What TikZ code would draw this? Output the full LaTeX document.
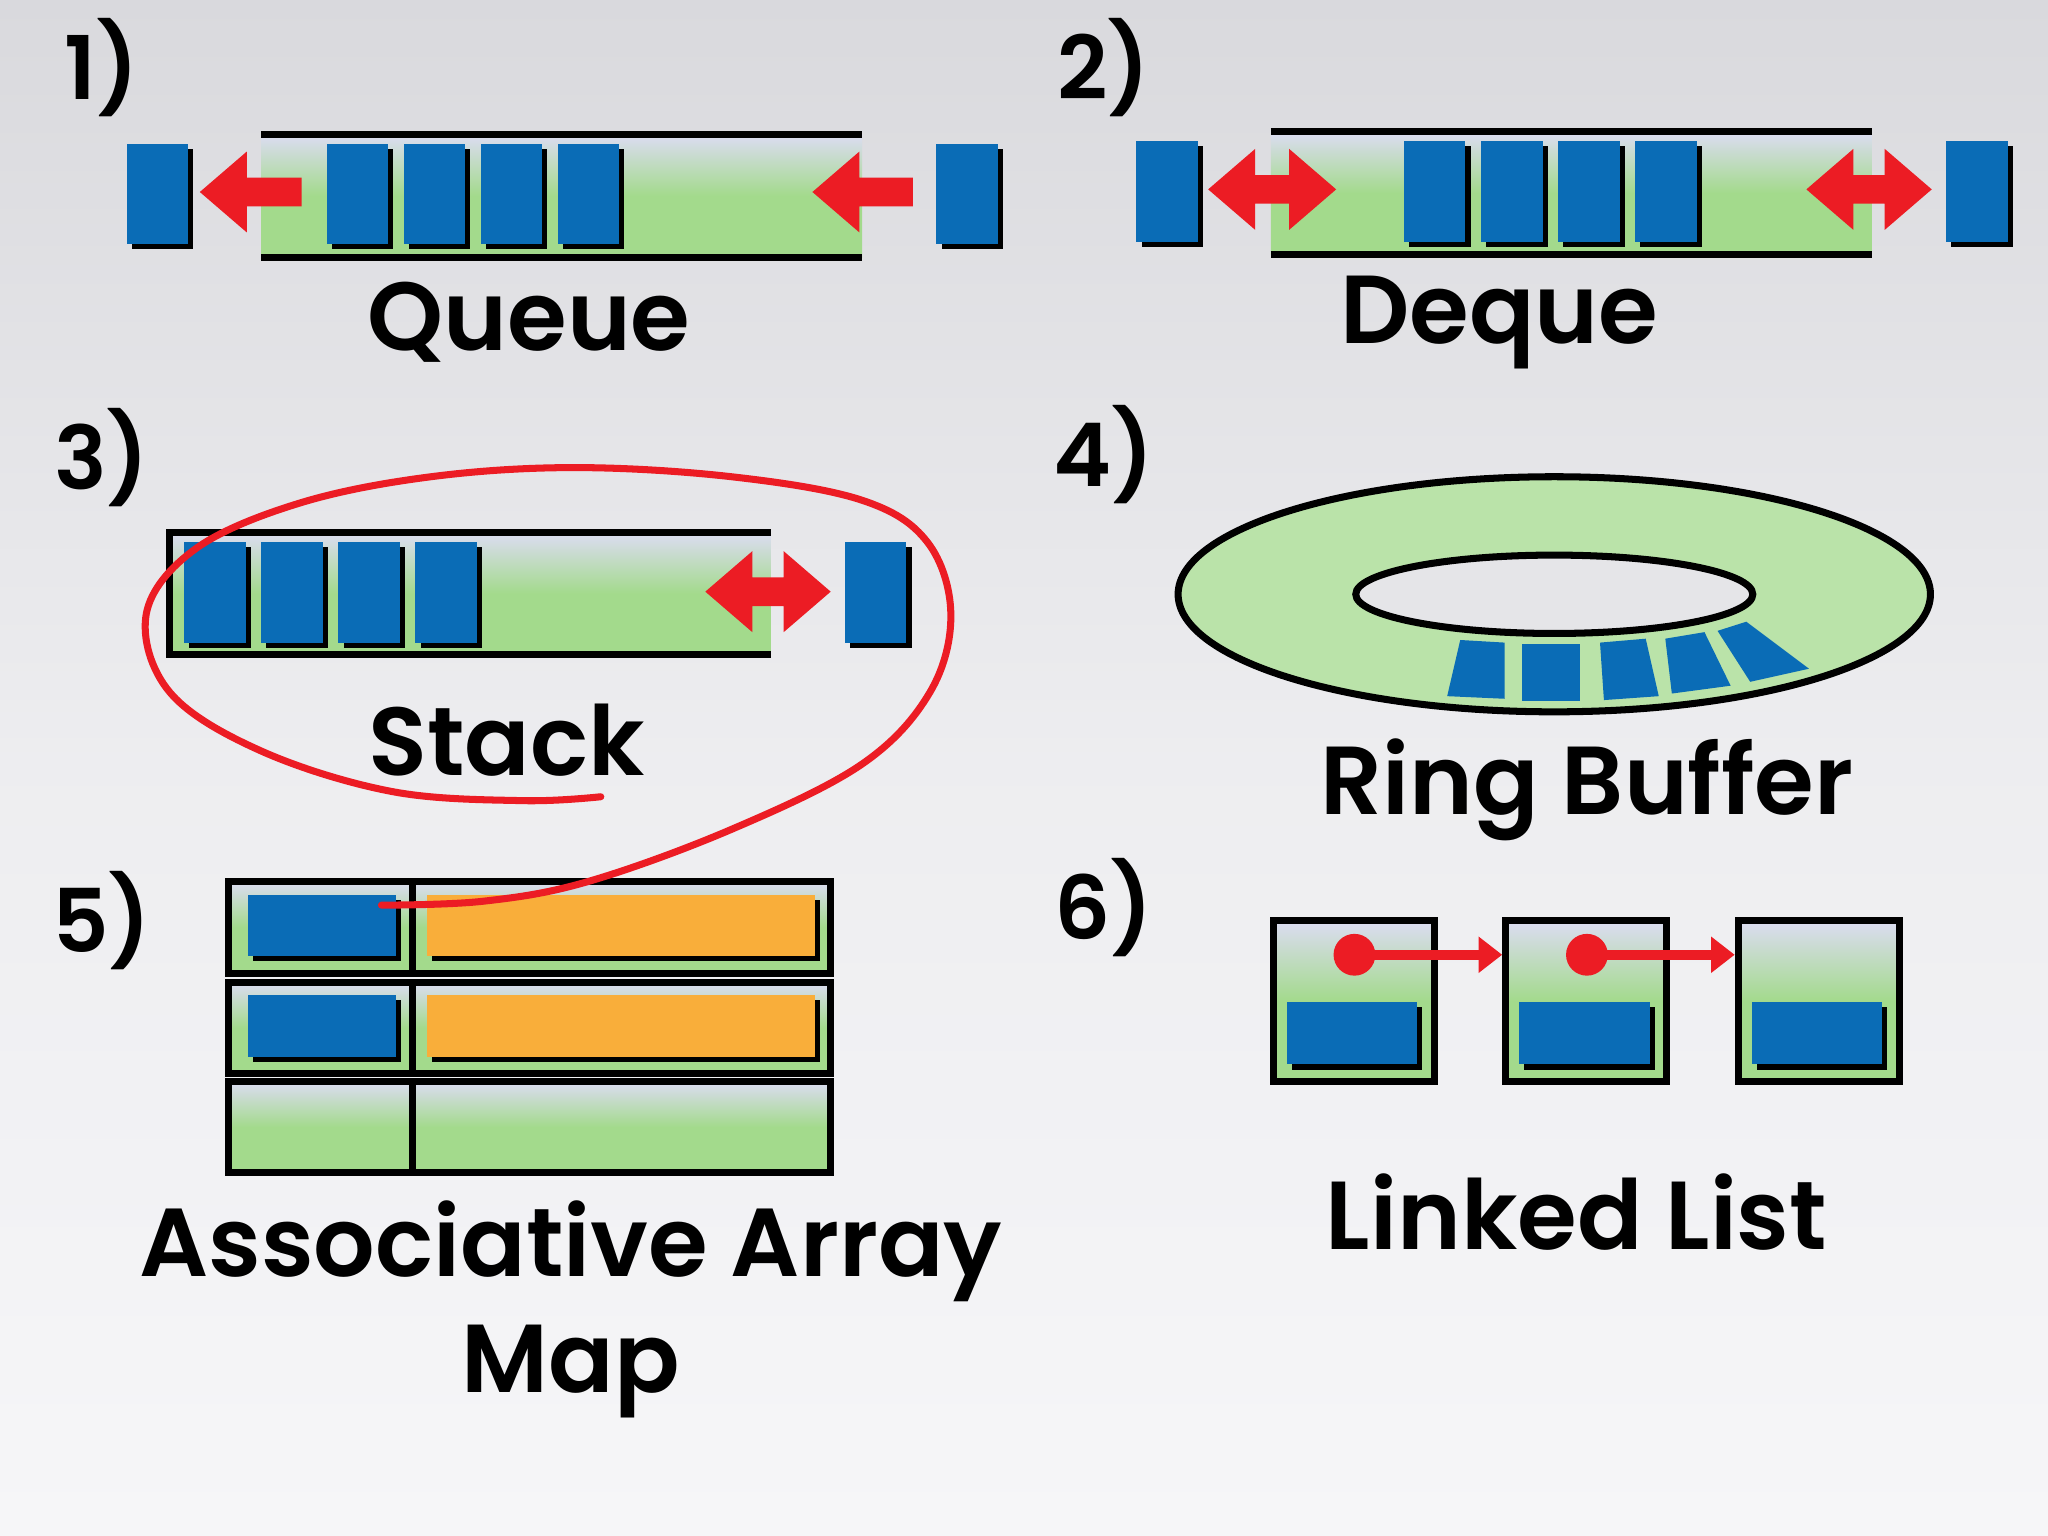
\documentclass[tikz,border=0pt]{standalone}
\usepackage{fontspec}
\setmainfont{Poppins}[BoldFont={* SemiBold}]
\begin{document}
\begin{tikzpicture}[x=0.013061cm,y=-0.013061cm,
 lbl/.style={font=\bfseries\fontsize{27.5}{33}\selectfont,inner sep=0},
 num/.style={font=\bfseries\fontsize{25}{30}\selectfont,inner sep=0},
 bar/.style={top color=barTop,bottom color=barG,middle color=barG,draw=none}]
\definecolor{barTop}{HTML}{DCDCF2}
\definecolor{barG}{HTML}{A3DA8C}
\definecolor{blu}{HTML}{0A6CB6}
\definecolor{rd}{HTML}{EC1C24}
\definecolor{org}{HTML}{F9AE3A}
\definecolor{bgT}{HTML}{D9D9DD}
\definecolor{bgB}{HTML}{F6F6F8}
\useasboundingbox (0,0) rectangle (1568,1176);
\shade[top color=bgT,bottom color=bgB,middle color=bgB!70!bgT] (0,0) rectangle (1568,1176);
\newcommand\blk[3][47]{\fill[black] (#2+4,#3+4) rectangle ++(#1,77);\fill[blu] (#2,#3) rectangle ++(#1,77);}
\newcommand\larr[3]{\fill[rd] (#1,#3) -- (#1+36,#3-31) -- (#1+36,#3-11) -- (#2,#3-11) -- (#2,#3+11) -- (#1+36,#3+11) -- (#1+36,#3+31) -- cycle;}
\newcommand\darr[3]{\fill[rd] (#1,#3) -- (#1+36,#3-31) -- (#1+36,#3-11) -- (#2-36,#3-11) -- (#2-36,#3-31) -- (#2,#3) -- (#2-36,#3+31) -- (#2-36,#3+11) -- (#1+36,#3+11) -- (#1+36,#3+31) -- cycle;}
% 1 Queue
\node[num] (n1) at (78,52) {1)};
\shade[bar] (200,103) rectangle (660,197);
\draw[line width=2pt] (200,103) -- (660,103) (200,197) -- (660,197);
\blk{97}{110}\blk{250}{110}\blk{309}{110}\blk{368}{110}\blk{427}{110}\blk{717}{110}
\larr{153}{231}{147}\larr{622}{699}{147}
\node[lbl] (q) at (405,247) {Queue};
% 2 Deque
\node[num] (n2) at (845,52) {2)};
\shade[bar] (973,101) rectangle (1433,195);
\draw[line width=2pt] (973,101) -- (1433,101) (973,195) -- (1433,195);
\blk{870}{108}\blk{1075}{108}\blk{1134}{108}\blk{1193}{108}\blk{1252}{108}\blk{1490}{108}
\darr{925}{1023}{145}\darr{1383}{1479}{145}
\node[lbl] (d) at (1148,247) {Deque};
% 3 Stack
\node[num] (n3) at (78,350) {3)};
\shade[bar] (130,408) rectangle (590,501);
\draw[line width=2pt] (590,408) -- (130,408) -- (130,501) -- (590,501);
\blk{141}{415}\blk{200}{415}\blk{259}{415}\blk{318}{415}\blk{647}{415}
\darr{540}{636}{453}
\node[lbl] (s) at (388,567) {Stack};
% 4 Ring
\node[num] (n4) at (845,348) {4)};
\draw[line width=2pt,fill=barG!75!white] (1190,455) ellipse [x radius=288,y radius=90];
\draw[line width=2pt,fill=bgT!60!bgB] (1190,455) ellipse [x radius=152,y radius=30];
\fill[blu] (1118,490) -- (1152,492) -- (1152,535) -- (1108,533) -- cycle;
\fill[blu] (1165,493) rectangle (1210,537);
\fill[blu] (1225,492) -- (1260,489) -- (1270,533) -- (1228,536) -- cycle;
\fill[blu] (1275,489) -- (1305,484) -- (1325,525) -- (1280,531) -- cycle;
\fill[blu] (1315,483) -- (1337,476) -- (1385,512) -- (1340,522) -- cycle;
\node[lbl] (r) at (1215,605) {Ring Buffer};
% 5 Map
\node[num] (n5) at (78,705) {5)};
\foreach \y in {675,752,828}{
 \shade[bar] (175,\y) rectangle (636,\y+70);
 \draw[line width=2pt] (175,\y) rectangle (636,\y+70) (316,\y) -- (316,\y+70);}
\foreach \y in {685,762}{
 \fill[black] (194,\y+4) rectangle (307,\y+51);\fill[blu] (190,\y) rectangle (303,\y+47);
 \fill[black] (331,\y+4) rectangle (628,\y+51);\fill[org] (327,\y) rectangle (624,\y+47);}
\node[lbl] (m1) at (437,958) {Associative Array};
\node[lbl] (m2) at (437,1050) {Map};
% 6 Linked list
\node[num] (n6) at (845,695) {6)};
\foreach \x in {975,1153,1331}{
 \shade[bar] (\x,705) rectangle (\x+123,828);
 \draw[line width=2pt] (\x,705) rectangle (\x+123,828);
 \fill[black] (\x+14,771) rectangle (\x+114,819);\fill[blu] (\x+10,767) rectangle (\x+110,815);}
\foreach \x in {1037,1215}{
 \fill[rd] (\x,731) circle (16);
 \fill[rd] (\x,727) rectangle (\x+95,735);
 \fill[rd] (\x+113,731) -- (\x+95,717) -- (\x+95,745) -- cycle;}
\node[lbl] (l) at (1207,928) {Linked List};
% red loop
\draw[rd,line width=2pt,line cap=round] plot[smooth,tension=0.6] coordinates {
 (460,610) (400,613) (300,606) (200,575) (130,530) (112,470) (150,420) (230,385) (330,365) (440,358) (560,365) (660,383) (710,415) (728,470) (712,530) (660,585) (560,635) (450,675) (370,690) (292,693)};
\end{tikzpicture}
\end{document}
